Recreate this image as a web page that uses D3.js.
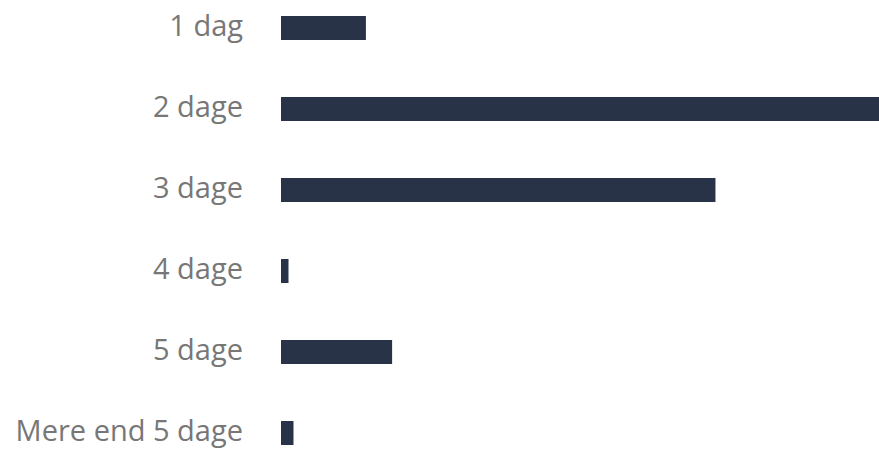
<!DOCTYPE html>
<html><head><meta charset="utf-8">
<script src="https://cdn.jsdelivr.net/npm/d3@7"></script>
<style>html,body{margin:0;padding:0;background:#fff;overflow:hidden}</style>
</head><body>
<svg id="chart" width="879" height="450"></svg>
<script>
const categories = ["1 dag","2 dage","3 dage","4 dage","5 dage","Mere end 5 dage"];
const values = [6.8, 47.9, 34.8, 0.6, 8.9, 1.0];

const svg = d3.select("#chart");
const x = d3.scaleLinear().domain([0, d3.max(values)]).range([281, 879]);
const y = d3.scaleBand().domain(categories).range([-12.5, 473.5]).paddingInner(57/81).paddingOuter(28.5/81);

svg.selectAll("rect.bar").data(categories).join("rect")
  .attr("class","bar")
  .attr("x", x(0))
  .attr("y", d => y(d))
  .attr("width", (d,i) => x(values[i]) - x(0))
  .attr("height", y.bandwidth())
  .attr("fill", "#283347");

svg.selectAll("text.lbl").data(categories).join("text")
  .attr("class","lbl")
  .attr("x", 243)
  .attr("y", d => y(d) + y.bandwidth()/2)
  .attr("dy", 8)
  .attr("text-anchor","end")
  .attr("font-family","'Open Sans', sans-serif")
  .attr("font-size", 29)
  .attr("fill","#777777")
  .text(d => d);
</script>
</body></html>
